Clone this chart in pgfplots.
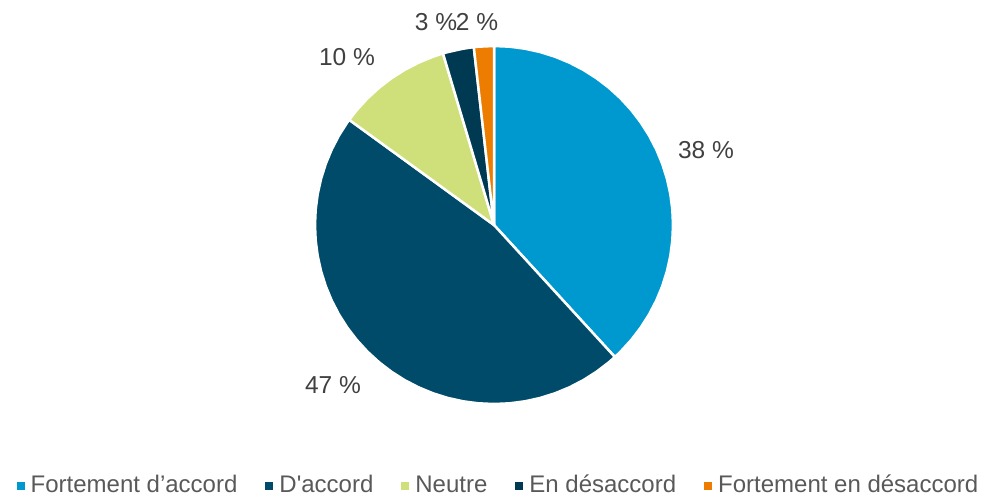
\documentclass[border=0pt]{standalone}
\usepackage{fontspec}
\setmainfont{Liberation Sans}[Ligatures=TeXOff]
\usepackage{pgfplots}
\pgfplotsset{compat=1.18}

\definecolor{cFA}{HTML}{0099CF}
\definecolor{cA}{HTML}{004B69}
\definecolor{cN}{HTML}{CFE07A}
\definecolor{cD}{HTML}{003A52}
\definecolor{cFD}{HTML}{ED7D00}
\definecolor{lbl}{HTML}{404040}
\definecolor{leg}{HTML}{595959}

% shares (%): 38.2, 46.8, 10.4, 2.8, 1.8 -> wedges clockwise from 12 o'clock
% points: (angle in degrees, radius)

\begin{document}
\begin{tikzpicture}
\begin{axis}[
    scale only axis,
    x=1pt, y=1pt,
    xmin=-494, xmax=498,
    ymin=-273, ymax=225,
    hide axis,
    clip=false,
    data cs=polar,
    legend columns=5,
    legend cell align=left,
    legend style={draw=none, fill=none, at={(axis cs:4.5,-261)}, anchor=center,
        font=\fontsize{24}{28}\selectfont, text=leg,
        nodes={text height=17pt, text depth=5pt},
        /tikz/every odd column/.append style={column sep=4pt},
        /tikz/every even column/.append style={column sep=26pt},
        inner sep=0pt},
    legend image code/.code={\fill[#1, draw=none] (0pt,-4pt) rectangle (8pt,4pt);},
    every axis plot/.append style={draw=white, line width=2.5pt},
]
\path (rel axis cs:0,0) -- (rel axis cs:1,1);
\addplot[fill=cFA] coordinates {(0,0) (90,179) (85,179) (80,179) (75,179) (70,179) (65,179) (60,179) (55,179) (50,179) (45,179) (40,179) (35,179) (30,179) (25,179) (20,179) (15,179) (10,179) (5,179) (0,179) (-5,179) (-10,179) (-15,179) (-20,179) (-25,179) (-30,179) (-35,179) (-40,179) (-45,179) (-47.52,179)} -- cycle;
\addlegendentry{Fortement d’accord}
\addplot[fill=cA] coordinates {(0,0) (-47.52,179) (-50,179) (-55,179) (-60,179) (-65,179) (-70,179) (-75,179) (-80,179) (-85,179) (-90,179) (-95,179) (-100,179) (-105,179) (-110,179) (-115,179) (-120,179) (-125,179) (-130,179) (-135,179) (-140,179) (-145,179) (-150,179) (-155,179) (-160,179) (-165,179) (-170,179) (-175,179) (-180,179) (-185,179) (-190,179) (-195,179) (-200,179) (-205,179) (-210,179) (-215,179) (-216,179)} -- cycle;
\addlegendentry{D'accord}
\addplot[fill=cN] coordinates {(0,0) (-216,179) (-220,179) (-225,179) (-230,179) (-235,179) (-240,179) (-245,179) (-250,179) (-253.44,179)} -- cycle;
\addlegendentry{Neutre}
\addplot[fill=cD] coordinates {(0,0) (-253.44,179) (-255,179) (-260,179) (-263.52,179)} -- cycle;
\addlegendentry{En désaccord}
\addplot[fill=cFD] coordinates {(0,0) (-263.52,179) (-265,179) (-270,179)} -- cycle;
\addlegendentry{Fortement en désaccord}

\begin{scope}[every node/.style={text=lbl, font=\fontsize{24.5}{28}\selectfont}]
\node at (axis cs:212,75) {38 \%};
\node at (axis cs:-161,-160) {47 \%};
\node at (axis cs:-147,168) {10 \%};
\node at (axis cs:-58,203) {3 \%};
\node at (axis cs:-17,203) {2 \%};
\end{scope}
\end{axis}
\end{tikzpicture}
\end{document}
